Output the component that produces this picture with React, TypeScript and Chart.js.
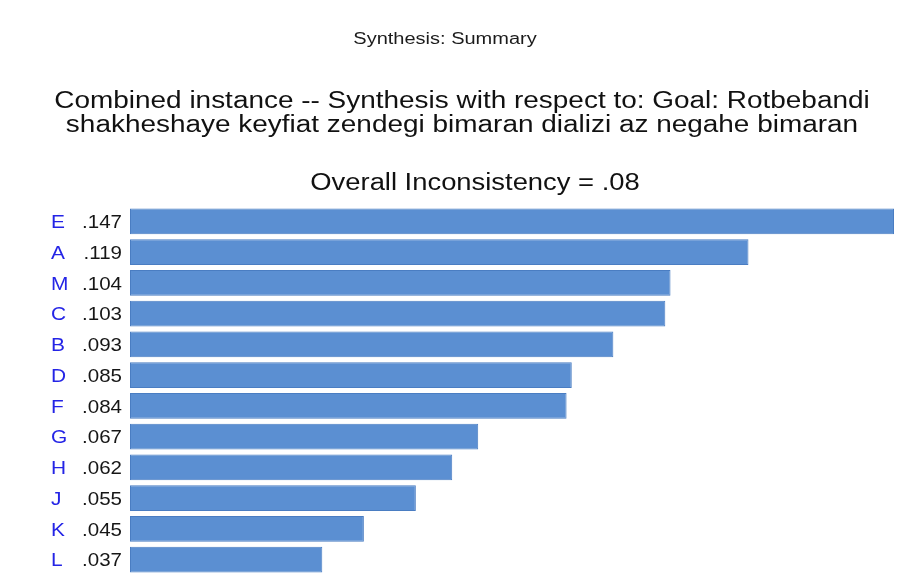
import React, { useEffect, useRef } from "react";
import { Chart, registerables } from "chart.js";

Chart.register(...registerables);

const categories = ["E", "A", "M", "C", "B", "D", "F", "G", "H", "J", "K", "L"];
const priorities = [0.147, 0.119, 0.104, 0.103, 0.093, 0.085, 0.084, 0.067, 0.062, 0.055, 0.045, 0.037];
const valueLabels = [".147", ".119", ".104", ".103", ".093", ".085", ".084", ".067", ".062", ".055", ".045", ".037"];
const headerText = "Synthesis: Summary";
const titleLines = [
  "Combined instance -- Synthesis with respect to: Goal: Rotbebandi",
  "shakheshaye keyfiat zendegi bimaran dializi az negahe bimaran",
];
const inconsistencyText = "Overall Inconsistency = .08";

const FONT = '"Liberation Sans", Arial, Helvetica, sans-serif';

function drawText(
  ctx: CanvasRenderingContext2D,
  text: string,
  x: number,
  y: number,
  size: number,
  color: string,
  align: CanvasTextAlign,
  sx: number
) {
  ctx.save();
  ctx.translate(x, y);
  ctx.scale(sx, 1);
  ctx.font = `${size}px ${FONT}`;
  ctx.fillStyle = color;
  ctx.textAlign = align;
  ctx.textBaseline = "alphabetic";
  ctx.fillText(text, 0, 0);
  ctx.restore();
}

const textPlugin = {
  id: "ahpText",
  afterDraw(chart: any) {
    const ctx = chart.ctx as CanvasRenderingContext2D;
    drawText(ctx, headerText, 445, 44, 16, "#1b1b1b", "center", 1.25);
    drawText(ctx, titleLines[0], 462, 108, 23, "#111111", "center", 1.215);
    drawText(ctx, titleLines[1], 462, 132, 23, "#111111", "center", 1.215);
    drawText(ctx, inconsistencyText, 475, 190, 23, "#111111", "center", 1.19);
    const yScale = chart.scales.y;
    categories.forEach((c, i) => {
      const yc = yScale.getPixelForValue(i);
      drawText(ctx, c, 51, yc + 6.8, 19, "#2424e6", "left", 1.1);
      drawText(ctx, valueLabels[i], 122, yc + 6.8, 19, "#161616", "right", 1.08);
    });
  },
};

export default function App() {
  const ref = useRef<HTMLCanvasElement | null>(null);
  useEffect(() => {
    if (!ref.current) return;
    const chart = new Chart(ref.current, {
      type: "bar",
      data: {
        labels: categories,
        datasets: [
          {
            data: priorities,
            backgroundColor: "#5b8fd2",
            borderColor: "#4a7dc2",
            borderWidth: 1,
            borderSkipped: false,
            categoryPercentage: 1,
            barPercentage: 0.845,
          },
        ],
      },
      options: {
        indexAxis: "y",
        animation: false,
        responsive: true,
        maintainAspectRatio: false,
        layout: { padding: { left: 130, right: 12, top: 206, bottom: 0 } },
        plugins: {
          legend: { display: false },
          title: { display: false },
          tooltip: { enabled: false },
        },
        scales: {
          x: { display: false, min: 0, max: Math.max(...priorities) },
          y: { display: false, grid: { display: false } },
        },
      },
      plugins: [textPlugin],
    });
    return () => chart.destroy();
  }, []);
  return (
    <div style={{ position: "absolute", left: 0, top: 0, width: 906, height: 575, background: "#ffffff" }}>
      <canvas ref={ref} />
    </div>
  );
}
